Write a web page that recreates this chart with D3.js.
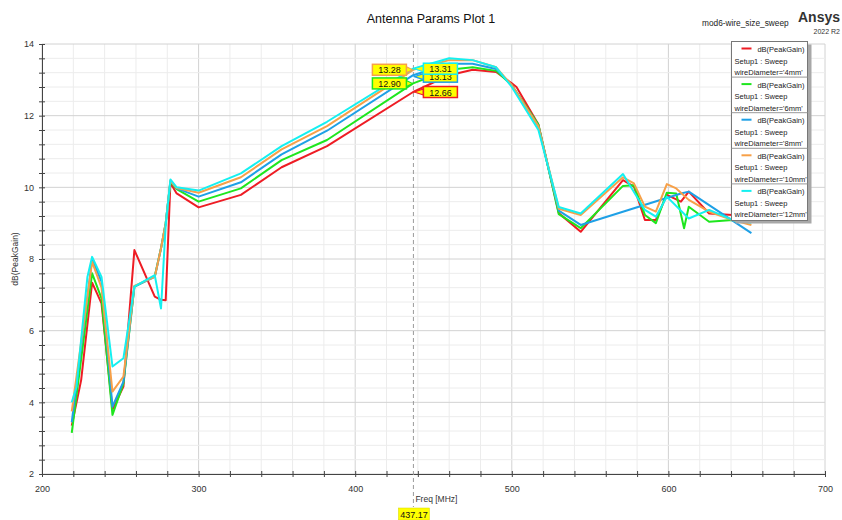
<!DOCTYPE html>
<html>
<head>
<meta charset="utf-8">
<script src="https://cdn.jsdelivr.net/npm/d3@7"></script>
<style>
	body { margin: 0; background: #fff; }
	svg { display: block; font-family: 'Liberation Sans', Arial, sans-serif; }
</style>
</head>
<body>
<div id="chart"></div>
<script>
// sweep frequencies (MHz); null = no sample for that wire size
const freqs = [219, 222, 225, 229, 232, 238, 245, 252, 259, 272, 276, 279, 282, 286, 300, 327, 353, 382, 437, 460, 475, 490, 500, 503, 517, 530, 544, 571, 578, 585, 592, 599, 605, 608, 610, 613, 626, 641, 653];

const gain4mm = [3.35, null, 4.62, null, 7.34, 6.76, 3.8, 4.44, 8.25, 6.95, 6.86, 6.85, 10.12, 9.83, 9.44, 9.79, 10.56, 11.15, 12.66, 13.13, 13.28, 13.22, 12.9, 12.8, 11.75, 9.28, 8.76, 10.2, 10.02, 9.09, 9.09, 9.79, null, 9.6, null, 9.88, 9.27, 9.23, 9.1];
const gain6mm = [3.15, null, null, null, 7.6, 6.9, 3.65, 4.53, 7.23, 7.52, 8.3, 9.0, 10.15, 9.95, 9.6, 9.97, 10.76, 11.32, 12.9, 13.28, 13.35, 13.25, 12.85, null, 11.75, 9.25, 8.86, 10.04, 10.06, 9.23, 9.0, 9.85, 9.83, null, 8.86, 9.46, 9.04, 9.09, 9.07];
const gain8mm = [3.45, null, null, null, 8.0, 7.37, 3.88, 4.58, 7.23, 7.5, 8.3, 9.0, 10.18, 9.97, 9.74, 10.14, 10.92, 11.58, 13.13, 13.45, 13.45, 13.3, 12.85, null, 11.7, 9.35, 8.95, null, null, null, null, null, null, 9.83, null, 9.88, null, null, 8.72];
const gain10mm = [3.75, null, null, null, 7.92, 7.2, 4.3, 4.72, 7.25, 7.5, 8.3, 9.0, 10.18, 9.98, 9.85, 10.28, 11.06, 11.71, 13.28, 13.55, 13.55, 13.35, 12.85, null, 11.7, 9.4, 9.23, 10.28, 10.11, 9.46, 9.32, 10.09, 9.97, null, null, 9.65, 9.32, 9.09, 8.95];
const gain12mm = [4.0, 4.43, null, 7.5, 8.06, 7.5, 5.0, 5.23, 7.23, 7.55, 6.62, 8.95, 10.22, 10.0, 9.91, 10.39, 11.15, 11.83, 13.31, 13.6, 13.55, 13.35, 12.8, null, 11.6, 9.45, 9.27, 10.37, null, 9.37, 9.18, 9.74, null, null, null, 9.13, 9.37, 9.09, 9.01];

const seriesLabels = ["wireDiameter='4mm'", "wireDiameter='6mm'", "wireDiameter='8mm'", "wireDiameter='10mm'", "wireDiameter='12mm'"];
const seriesColors = ['#ee1c24', '#1ee61e', '#1ea0e6', '#f7a048', '#14f0f0'];

const markerFreq = 437.17;
const markerValues = [12.66, 12.90, 13.13, 13.28, 13.31];
const markerSide = ['right', 'left', 'right', 'left', 'right'];

const xTicks = [200, 300, 400, 500, 600, 700];
const yTicks = [2, 4, 6, 8, 10, 12, 14];

const width = 842;
const height = 520;
const margin = { top: 44, right: 17, bottom: 46, left: 42 };

const svg = d3.select('#chart')
	.append('svg')
	.attr('width', width)
	.attr('height', height);

const x = d3.scaleLinear()
	.domain([200, 700])
	.range([margin.left, width - margin.right]);

const y = d3.scaleLinear()
	.domain([2, 14])
	.range([height - margin.bottom, margin.top]);

const xMinor = d3.range(0, 26).map((i) => 200 + i * 20);
const yMinor = d3.range(0, 31).map((i) => +(2 + i * 0.4).toFixed(1));

// grid
const grid = svg.append('g');
grid.selectAll('.gx')
	.data(xMinor)
	.join('line')
	.attr('x1', (d) => x(d))
	.attr('x2', (d) => x(d))
	.attr('y1', y(2))
	.attr('y2', y(14))
	.attr('stroke', (d) => (xTicks.includes(d) ? '#d2d2d2' : '#ececec'))
	.attr('stroke-width', 1);
grid.selectAll('.gy')
	.data(yMinor)
	.join('line')
	.attr('x1', x(200))
	.attr('x2', x(700))
	.attr('y1', (d) => y(d))
	.attr('y2', (d) => y(d))
	.attr('stroke', (d) => (yTicks.includes(d) ? '#d2d2d2' : '#ececec'))
	.attr('stroke-width', 1);

// axes
const xAxis = d3.axisBottom(x)
	.tickValues(xMinor)
	.tickSize(3)
	.tickPadding(9)
	.tickFormat((d) => (xTicks.includes(d) ? d : ''));
const yAxis = d3.axisLeft(y)
	.tickValues(yMinor)
	.tickSize(3)
	.tickPadding(5)
	.tickFormat((d) => (yTicks.includes(d) ? d : ''));

const gx = svg.append('g')
	.attr('transform', `translate(0,${y(2)})`)
	.call(xAxis);
const gy = svg.append('g')
	.attr('transform', `translate(${x(200)},0)`)
	.call(yAxis);

[gx, gy].forEach((g) => {
	g.select('.domain').attr('stroke', '#444');
	g.selectAll('.tick line').attr('stroke', '#444');
	g.selectAll('.tick text')
		.attr('fill', '#333')
		.style('font-size', '9px')
		.style('font-family', "'Liberation Sans', Arial, sans-serif");
});
gx.selectAll('.tick line').attr('y1', -3);
gy.selectAll('.tick line').attr('x1', 3).attr('x2', -3);

// marker line
svg.append('line')
	.attr('x1', x(markerFreq))
	.attr('x2', x(markerFreq))
	.attr('y1', y(14))
	.attr('y2', 507)
	.attr('stroke', '#9a9a9a')
	.attr('stroke-dasharray', '4,3');

// curves
const series = [gain4mm, gain6mm, gain8mm, gain10mm, gain12mm];
const line = d3.line()
	.x((d) => x(d[0]))
	.y((d) => y(d[1]));

series.forEach((values, i) => {
	const pts = freqs
		.map((f, j) => [f, values[j]])
		.filter((d) => d[1] !== null);
	svg.append('path')
		.datum(pts)
		.attr('fill', 'none')
		.attr('stroke', seriesColors[i])
		.attr('stroke-width', 2)
		.attr('stroke-linejoin', 'round')
		.attr('d', line);
});

// marker labels (the cyan box sits over the blue one, as in the original)
const mx = x(markerFreq);
const boxW = 34;
const boxH = 11;
[0, 1, 3, 2, 4].forEach((i) => {
	const py = y(markerValues[i]) + (i === 2 ? 1.5 : 0);
	const left = markerSide[i] === 'left';
	const bx = left ? mx - 7 - boxW : mx + 10;
	const g = svg.append('g');
	const tip = left ? [mx - 1, py] : [mx + 1, py];
	const edge = left ? bx + boxW : bx;
	g.append('path')
		.attr('d', `M${edge},${py - 3}L${tip[0]},${tip[1]}L${edge},${py + 3}Z`)
		.attr('fill', '#ffff00')
		.attr('stroke', seriesColors[i])
		.attr('stroke-width', 1.2);
	g.append('rect')
		.attr('x', bx)
		.attr('y', py - boxH / 2)
		.attr('width', boxW)
		.attr('height', boxH)
		.attr('fill', '#ffff00')
		.attr('stroke', seriesColors[i])
		.attr('stroke-width', 1.5);
	g.append('text')
		.attr('x', bx + boxW / 2)
		.attr('y', py + 3.5)
		.attr('text-anchor', 'middle')
		.style('font-size', '9px')
		.attr('fill', '#111')
		.text(markerValues[i].toFixed(2));
});

// x marker readout
svg.append('rect')
	.attr('x', mx - 15)
	.attr('y', 508)
	.attr('width', 31)
	.attr('height', 12)
	.attr('fill', '#ffff00')
	.attr('stroke', '#d8d800')
	.attr('stroke-width', 0.5);
svg.append('text')
	.attr('x', mx + 0.5)
	.attr('y', 517.5)
	.attr('text-anchor', 'middle')
	.style('font-size', '9px')
	.attr('fill', '#111')
	.text(markerFreq.toFixed(2));

// axis titles
svg.append('text')
	.attr('x', mx + 2)
	.attr('y', 502)
	.style('font-size', '8.5px')
	.attr('fill', '#333')
	.text('Freq [MHz]');
svg.append('text')
	.attr('transform', `translate(18,${(y(2) + y(14)) / 2}) rotate(-90)`)
	.attr('text-anchor', 'middle')
	.style('font-size', '8.5px')
	.attr('fill', '#333')
	.text('dB(PeakGain)');

// titles
svg.append('text')
	.attr('x', 431)
	.attr('y', 23)
	.attr('text-anchor', 'middle')
	.style('font-size', '12.5px')
	.attr('fill', '#111')
	.text('Antenna Params Plot 1');
svg.append('text')
	.attr('x', 702)
	.attr('y', 26)
	.style('font-size', '8.3px')
	.attr('fill', '#222')
	.text('mod6-wire_size_sweep');
svg.append('text')
	.attr('x', 840)
	.attr('y', 22)
	.attr('text-anchor', 'end')
	.style('font-size', '14px')
	.style('font-weight', 'bold')
	.attr('fill', '#333')
	.text('Ansys');
svg.append('text')
	.attr('x', 840)
	.attr('y', 34)
	.attr('text-anchor', 'end')
	.style('font-size', '7px')
	.attr('fill', '#333')
	.text('2022 R2');

// legend
const lx = 731.5;
const ly = 41.5;
const lw = 76;
const rowH = 35.6;
const lh = rowH * seriesLabels.length + 1;
const legend = svg.append('g');
legend.append('rect')
	.attr('x', lx + 4)
	.attr('y', ly + 3)
	.attr('width', lw)
	.attr('height', lh)
	.attr('fill', '#a8a8a8');
legend.append('rect')
	.attr('x', lx)
	.attr('y', ly)
	.attr('width', lw)
	.attr('height', lh)
	.attr('fill', '#fff')
	.attr('stroke', '#777');

seriesLabels.forEach((label, i) => {
	const top = ly + i * rowH;
	if (i > 0) {
		legend.append('line')
			.attr('x1', lx)
			.attr('x2', lx + lw)
			.attr('y1', top)
			.attr('y2', top)
			.attr('stroke', '#999');
	}
	legend.append('line')
		.attr('x1', lx + 10)
		.attr('x2', lx + 20)
		.attr('y1', top + 7)
		.attr('y2', top + 7)
		.attr('stroke', seriesColors[i])
		.attr('stroke-width', 2);
	legend.append('text')
		.attr('x', lx + lw - 3)
		.attr('y', top + 10.5)
		.attr('text-anchor', 'end')
		.style('font-size', '7.5px')
		.attr('fill', '#222')
		.text('dB(PeakGain)');
	legend.append('text')
		.attr('x', lx + 3)
		.attr('y', top + 22)
		.style('font-size', '7.5px')
		.attr('fill', '#222')
		.text('Setup1 : Sweep');
	legend.append('text')
		.attr('x', lx + 3)
		.attr('y', top + 33.5)
		.style('font-size', '7.5px')
		.attr('fill', '#222')
		.text(label);
});
</script>
</body>
</html>
